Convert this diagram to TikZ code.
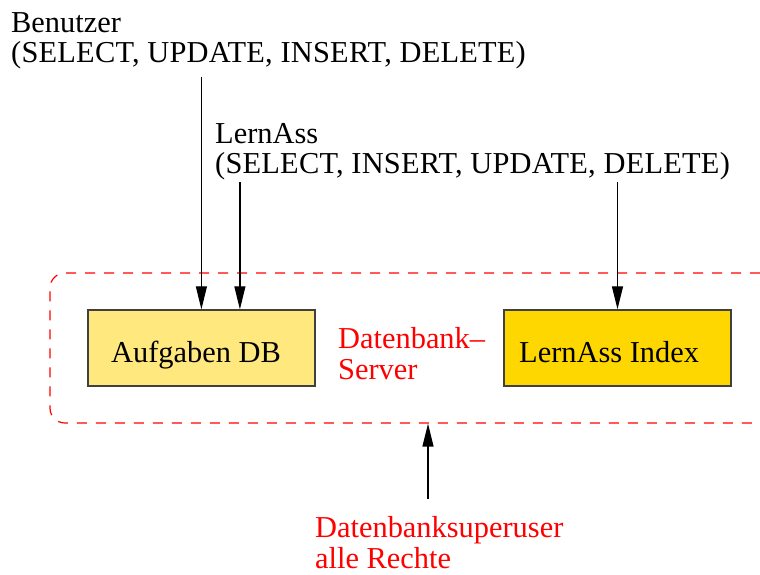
\documentclass[tikz,border=0pt]{standalone}
\usepackage{fontspec}
\setmainfont{Liberation Serif}
\usetikzlibrary{arrows.meta}
\definecolor{boxgray}{RGB}{64,64,64}
\definecolor{paleyellow}{RGB}{255,233,127}
\definecolor{gold}{RGB}{255,215,0}
\newcommand{\twolines}[2]{\begin{tabular}[t]{@{}l@{}}#1\\#2\end{tabular}}
\newcommand{\rights}[1]{{\addfontfeature{LetterSpace=0.7}#1}}
\begin{document}
\begin{tikzpicture}[x=1pt,y=-1pt,
  lbl/.style={anchor=base west, inner sep=0pt, font=\fontsize{30.4}{30}\selectfont},
  redlbl/.style={lbl, text=red, font=\fontsize{30.4}{31.5}\selectfont},
  dbbox/.style={draw=boxgray, line width=1.4pt, minimum width=227pt, minimum height=76pt, inner sep=0pt},
  feed/.style={-{Triangle[length=23pt,width=11pt]}, line width=1.3pt},
  serverframe/.style={draw=red, line width=1.2pt, dash pattern=on 10pt off 9pt,
    rounded corners=15pt, minimum width=725pt, minimum height=150pt, inner sep=0pt}]
\useasboundingbox (0,0) rectangle (760,574);

% database server frame
\node[serverframe] (server) at (412.5,348) {};

% the two databases
\node[dbbox, fill=paleyellow] (aufgaben) at (201.4,348) {};
\node[lbl] (aufgabentext) at (111,362) {Aufgaben DB};
\node[dbbox, fill=gold] (index) at (617.5,348) {};
\node[lbl] (indextext) at (519,362) {LernAss Index};

% server caption
\node[redlbl] (servertext) at (338,348) {\twolines{Datenbank–}{Server}};

% database users with their rights
\node[lbl] (benutzer) at (11,32.5) {\twolines{Benutzer}{\rights{(SELECT, UPDATE, INSERT, DELETE)}}};
\node[lbl] (lernass) at (215,143) {\twolines{LernAss}{\rights{(SELECT, INSERT, UPDATE, DELETE)}}};
\node[redlbl] (superuser) at (315,537) {\twolines{Datenbanksuperuser}{alle Rechte}};

\coordinate (benutzerout) at (201.4,77);
\coordinate (lernassout) at (239.9,182);
\coordinate (indexout) at (617.5,182);
\coordinate (superout) at (428,499);

\draw[feed] (benutzerout) -- (aufgaben.north);
\draw[feed] (lernassout) -- (aufgaben.north -| lernassout);
\draw[feed] (indexout) -- (index.north);
\draw[feed] (superout) -- (server.south -| superout);
\end{tikzpicture}
\end{document}
